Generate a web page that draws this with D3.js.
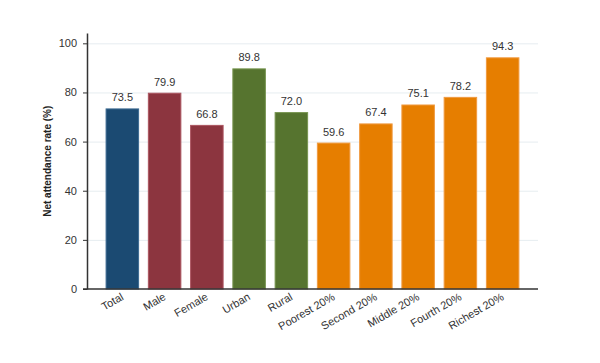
<!DOCTYPE html>
<html>
<head>
<meta charset="utf-8">
<script src="https://cdn.jsdelivr.net/npm/d3@7"></script>
<style>
	body { margin: 0; background: #fff; }
	text { font-family: "Liberation Sans", Arial, sans-serif; }
</style>
</head>
<body>
<div id="vis"></div>
<script>
// Bar chart data
var categories = ['Total', 'Male', 'Female', 'Urban', 'Rural', 'Poorest 20%', 'Second 20%', 'Middle 20%', 'Fourth 20%', 'Richest 20%'];
var values = [73.5, 79.9, 66.8, 89.8, 72.0, 59.6, 67.4, 75.1, 78.2, 94.3];
var groups = ['total', 'sex', 'sex', 'residence', 'residence', 'wealth', 'wealth', 'wealth', 'wealth', 'wealth'];
var yTicks = [0, 20, 40, 60, 80, 100];

var groupColors = {total: '#1b4a72', sex: '#8c353f', residence: '#56742f', wealth: '#e67e00'};
var groupStroke = {total: '#3b6a92', sex: '#ac5560', residence: '#76944f', wealth: '#f09a40'};

var width = 600, height = 363;
var margin = {top: 33, right: 62, bottom: 74, left: 87};

var svg = d3.select('#vis')
	.append('svg')
	.attr('width', width)
	.attr('height', height);

var x = d3.scaleBand()
	.domain(categories)
	.range([margin.left, width - margin.right])
	.paddingInner(0.207)
	.paddingOuter(0.44);

var y = d3.scaleLinear()
	.domain([0, 104.2])
	.range([height - margin.bottom, margin.top]);

// gridlines
svg.append('g')
	.selectAll('line')
	.data(yTicks.slice(1))
	.enter()
	.append('line')
	.attr('x1', margin.left)
	.attr('x2', width - margin.right)
	.attr('y1', function(d) { return y(d) + 0.5; })
	.attr('y2', function(d) { return y(d) + 0.5; })
	.style('stroke', '#e6edf0')
	.style('stroke-width', 1);

// bars
svg.append('g')
	.selectAll('rect')
	.data(values)
	.enter()
	.append('rect')
	.attr('x', function(d, i) { return x(categories[i]) + 0.5; })
	.attr('y', function(d) { return y(d) + 0.5; })
	.attr('width', x.bandwidth() - 1)
	.attr('height', function(d) { return y(0) - y(d) - 0.5; })
	.style('fill', function(d, i) { return groupColors[groups[i]]; })
	.style('stroke', function(d, i) { return groupStroke[groups[i]]; })
	.style('stroke-width', 1);

// value labels
svg.append('g')
	.selectAll('text')
	.data(values)
	.enter()
	.append('text')
	.attr('x', function(d, i) { return x(categories[i]) + x.bandwidth() / 2; })
	.attr('y', function(d) { return y(d) - 7; })
	.attr('text-anchor', 'middle')
	.style('font-size', '11px')
	.style('fill', '#333')
	.text(function(d) { return d.toFixed(1); });

// y axis
var yAxis = svg.append('g')
	.attr('transform', 'translate(' + margin.left + ',0)')
	.call(d3.axisLeft(y).tickValues(yTicks).tickSize(4).tickPadding(6).tickSizeOuter(0));
yAxis.select('.domain').style('stroke', '#333').style('stroke-width', 1.5);
yAxis.selectAll('.tick line').style('stroke', '#333');
yAxis.selectAll('.tick text')
	.style('font-size', '11px')
	.style('fill', '#333')
	.style('font-family', '"Liberation Sans", Arial, sans-serif');

// x axis
var xAxis = svg.append('g')
	.attr('transform', 'translate(0,' + y(0) + ')')
	.call(d3.axisBottom(x).tickSize(0).tickPadding(0));
xAxis.select('.domain')
	.attr('d', 'M' + (margin.left - 4) + ',0H' + (width - margin.right))
	.style('stroke', '#333')
	.style('stroke-width', 1.5);
xAxis.selectAll('.tick text')
	.attr('text-anchor', 'end')
	.attr('dy', 0)
	.attr('transform', 'translate(2,10) rotate(-30)')
	.style('font-size', '11px')
	.style('fill', '#333')
	.style('font-family', '"Liberation Sans", Arial, sans-serif');

// y label
svg.append('text')
	.attr('transform', 'translate(51,' + y(52) + ') rotate(-90)')
	.attr('text-anchor', 'middle')
	.style('font-size', '10px')
	.style('font-weight', 'bold')
	.style('fill', '#222')
	.text('Net attendance rate (%)');
</script>
</body>
</html>
